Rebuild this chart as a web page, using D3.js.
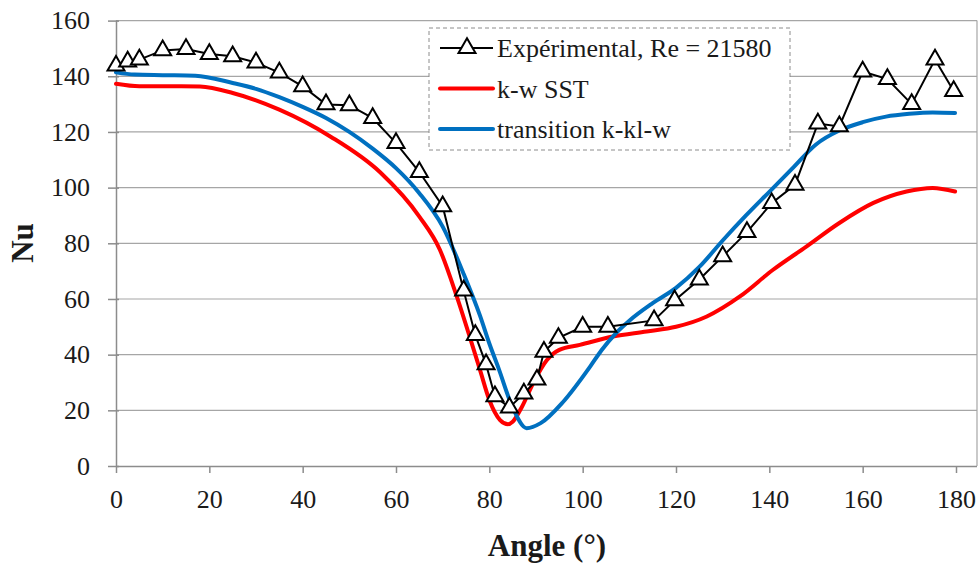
<!DOCTYPE html>
<html>
<head>
<meta charset="utf-8">
<script src="https://cdn.jsdelivr.net/npm/d3@7"></script>
</head>
<body style="margin:0;background:#fff">
<div id="chart"></div>
<script>
// données
const expAngle = [0, 2.5, 5, 10, 15, 20, 25, 30, 35, 40, 45, 50, 55, 60, 65, 70,
  74.5, 77, 79.3, 81.2, 84.3, 87.4, 90.2, 91.7, 94.8, 100, 105.4, 115.3, 119.7,
  125, 130, 135.2, 140.5, 145.5, 150.4, 155, 160, 165.3, 170.5, 175.5, 179.5];
const expNu = [143.8, 145.3, 146, 149.3, 149.8, 148, 147.2, 144.9, 141.3, 136.4, 129.9, 129.6, 125, 116, 105.6, 93.3,
  63, 47, 36.5, 25, 21, 26, 31, 41, 46, 50, 50, 52.3, 59.5,
  67, 75.3, 84, 94.4, 101, 123, 122, 141.7, 139, 130, 146, 134.7];

const sstAngle = [0, 5, 14, 18, 25, 35, 46, 56.6, 65, 69.4, 73, 76, 78, 80, 82.3, 84, 85,
  87, 89.4, 92.3, 95, 99.4, 106.5, 113.7, 120, 126.6, 133.7, 140.8, 148, 155, 162.3, 169.4, 175, 179.8];
const sstNu = [137.3, 136.4, 136.4, 136.3, 134, 128, 118.3, 105.5, 89.6, 77.7, 61, 45.3, 34.5, 23.7, 16.5, 15, 15.9,
  21.3, 29.8, 38, 41.7, 43.5, 46.5, 48.3, 50, 53.7, 60.9, 70.5, 78.9, 87.3, 94.5, 98.6, 99.9, 98.6];

const kklAngle = [0, 4, 10, 17, 25, 30, 35, 40, 45, 50, 55, 60, 65, 70, 74.5, 78, 80, 82, 85,
  88, 91, 95.8, 101.6, 104, 107, 110, 115, 120, 125, 130, 135, 140, 145, 150, 155, 160, 165, 170, 175, 179.8];
const kklNu = [141.4, 140.6, 140.4, 140.2, 137.6, 135.5, 132.5, 129, 125, 120, 114, 107, 98, 86, 69, 54, 44, 35, 21,
  13.6, 15.4, 23, 35.7, 41.5, 47.5, 52.2, 58.5, 64, 71.5, 81, 90, 98.5, 107, 115.5, 120.5, 123.5, 125.5, 126.5, 127, 126.8];

const xTicks = [0, 20, 40, 60, 80, 100, 120, 140, 160, 180];
const yTicks = [0, 20, 40, 60, 80, 100, 120, 140, 160];
const legendLabels = ["Expérimental, Re = 21580", "k-w SST", "transition k-kl-w"];
const colors = ["#000000", "#ff0000", "#0070c0"];

const width = 980;
const height = 564;
const plot = { left: 116, right: 977, top: 20.6, bottom: 466 };
const serif = "Liberation Serif";

const svg = d3.select("#chart")
  .append("svg")
  .attr("width", width)
  .attr("height", height);

const x = d3.scaleLinear().domain([0, 180]).range([plot.left, 956]);
const y = d3.scaleLinear().domain([0, 160]).range([plot.bottom, plot.top]);

// grille horizontale
svg.append("g")
  .selectAll("line")
  .data(yTicks.filter(d => d > 0))
  .join("line")
  .attr("x1", plot.left)
  .attr("x2", plot.right)
  .attr("y1", d => y(d))
  .attr("y2", d => y(d))
  .attr("stroke", "#a6a6a6")
  .attr("stroke-width", 1.2);

// bord droit
svg.append("line")
  .attr("x1", plot.right).attr("x2", plot.right)
  .attr("y1", plot.top).attr("y2", plot.bottom)
  .attr("stroke", "#a6a6a6").attr("stroke-width", 1.2);

// axe x
const xAxis = svg.append("g")
  .attr("transform", `translate(0,${plot.bottom})`)
  .call(d3.axisBottom(x).tickValues(xTicks).tickSize(7).tickPadding(17));
xAxis.attr("font-family", null);
xAxis.select(".domain").attr("d", `M${plot.left},0.5H${plot.right}`).attr("stroke", "#8c8c8c").attr("stroke-width", 1.5);
xAxis.selectAll(".tick line").attr("stroke", "#8c8c8c").attr("stroke-width", 1.5);
xAxis.selectAll("text")
  .style("font-family", serif).style("font-size", "26px").attr("fill", "#1a1a1a");

// axe y
const yAxis = svg.append("g")
  .attr("transform", `translate(${plot.left},0)`)
  .call(d3.axisLeft(y).tickValues(yTicks).tickSize(8).tickPadding(18));
yAxis.attr("font-family", null);
yAxis.select(".domain").attr("stroke", "#8c8c8c").attr("stroke-width", 1.5).attr("d", `M0.5,${plot.bottom}V${plot.top}`);
yAxis.selectAll(".tick line").attr("stroke", "#8c8c8c").attr("stroke-width", 1.5).attr("x2", 3).attr("x1", -8);
yAxis.selectAll("text")
  .style("font-family", serif).style("font-size", "26px").attr("fill", "#1a1a1a");

// courbes
const smooth = d3.line().x(d => x(d[0])).y(d => y(d[1])).curve(d3.curveMonotoneX);
const straight = d3.line().x(d => x(d[0])).y(d => y(d[1]));

svg.append("path")
  .datum(sstAngle.map((a, i) => [a, sstNu[i]]))
  .attr("fill", "none")
  .attr("stroke", colors[1])
  .attr("stroke-width", 4)
  .attr("stroke-linejoin", "round")
  .attr("stroke-linecap", "round")
  .attr("d", smooth);

svg.append("path")
  .datum(kklAngle.map((a, i) => [a, kklNu[i]]))
  .attr("fill", "none")
  .attr("stroke", colors[2])
  .attr("stroke-width", 4)
  .attr("stroke-linejoin", "round")
  .attr("stroke-linecap", "round")
  .attr("d", smooth);

const expData = expAngle.map((a, i) => [a, expNu[i]]);
svg.append("path")
  .datum(expData)
  .attr("fill", "none")
  .attr("stroke", colors[0])
  .attr("stroke-width", 2)
  .attr("d", straight);

const tri = d3.symbol(d3.symbolTriangle, 125);
svg.append("g")
  .selectAll("path")
  .data(expData)
  .join("path")
  .attr("transform", d => `translate(${x(d[0])},${y(d[1])})`)
  .attr("d", tri)
  .attr("fill", "#fff")
  .attr("stroke", "#000")
  .attr("stroke-width", 2);

// légende
const legend = svg.append("g").attr("transform", "translate(429,28)");
legend.append("rect")
  .attr("width", 361)
  .attr("height", 122)
  .attr("fill", "#fff")
  .attr("stroke", "#8c8c8c")
  .attr("stroke-dasharray", "4,3");

const rows = legend.selectAll("g.row")
  .data(legendLabels)
  .join("g")
  .attr("class", "row")
  .attr("transform", (d, i) => `translate(0,${20 + i * 40.5})`);

rows.append("line")
  .attr("x1", 11).attr("x2", 64)
  .attr("stroke", (d, i) => colors[i])
  .attr("stroke-width", (d, i) => i === 0 ? 2 : 4)
  .attr("stroke-linecap", (d, i) => i === 0 ? "butt" : "round");

rows.filter((d, i) => i === 0)
  .append("path")
  .attr("transform", "translate(38,0)")
  .attr("d", tri)
  .attr("fill", "#fff")
  .attr("stroke", "#000")
  .attr("stroke-width", 2);

rows.append("text")
  .attr("x", 68)
  .attr("dy", "0.35em")
  .attr("fill", "#1a1a1a")
  .style("font-family", serif)
  .style("font-size", "26px")
  .text(d => d);

// titres des axes
svg.append("text")
  .attr("x", 547)
  .attr("y", 556)
  .attr("text-anchor", "middle")
  .attr("fill", "#1a1a1a")
  .style("font-family", serif)
  .style("font-size", "31px")
  .style("font-weight", "bold")
  .text("Angle (°)");

svg.append("text")
  .attr("transform", "translate(33,243) rotate(-90)")
  .attr("text-anchor", "middle")
  .attr("fill", "#1a1a1a")
  .style("font-family", serif)
  .style("font-size", "31px")
  .style("font-weight", "bold")
  .text("Nu");
</script>
</body>
</html>
